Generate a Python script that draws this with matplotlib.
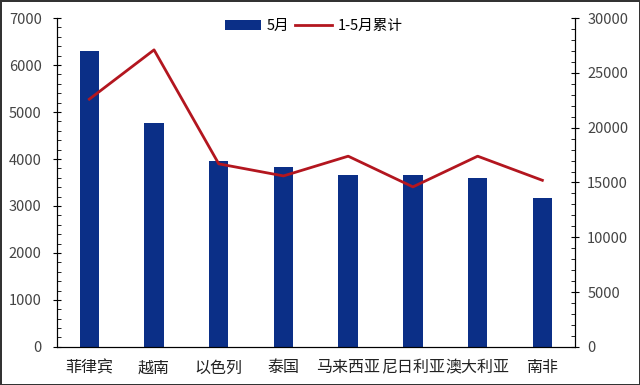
import matplotlib.pyplot as plt
from matplotlib.ticker import MultipleLocator
import numpy as np

plt.rcParams['font.family'] = ['Noto Sans CJK SC', 'DejaVu Sans']

countries = ['菲律宾', '越南', '以色列', '泰国', '马来西亚', '尼日利亚', '澳大利亚', '南非']
may = [6290, 4760, 3960, 3820, 3650, 3650, 3600, 3160]
ytd = [22600, 27100, 16700, 15600, 17400, 14600, 17400, 15200]

bar_color = '#0b2f87'
line_color = '#b3161f'

fig = plt.figure(figsize=(6.4, 3.85), dpi=100)
fig.patch.set_edgecolor('#333333')
fig.patch.set_linewidth(2)
ax = fig.add_axes([0.089, 0.099, 0.809, 0.854])
x = np.arange(len(countries))

bars = ax.bar(x, may, width=0.3, color=bar_color, label='5月', zorder=2)
ax.set_xlim(-0.5, len(countries) - 0.5)
ax.set_ylim(0, 7000)
ax.yaxis.set_major_locator(MultipleLocator(1000))
ax.yaxis.set_minor_locator(MultipleLocator(200))
ax.set_xticks(x)
ax.set_xticklabels(countries, fontsize=11.5, color='#222222')
ax.tick_params(axis='x', length=0, pad=9)
ax.tick_params(axis='y', which='major', direction='inout', length=6, pad=8,
               labelsize=10.5, labelcolor='#444444')
ax.tick_params(axis='y', which='minor', direction='in', length=3)
ax.spines['top'].set_visible(False)

ax2 = ax.twinx()
line, = ax2.plot(x, ytd, color=line_color, lw=2, label='1-5月累计', zorder=3)
ax2.set_ylim(0, 30000)
ax2.yaxis.set_major_locator(MultipleLocator(5000))
ax2.yaxis.set_minor_locator(MultipleLocator(1000))
ax2.tick_params(axis='y', which='major', direction='inout', length=6, pad=6,
                labelsize=10.5, labelcolor='#444444')
ax2.tick_params(axis='y', which='minor', direction='in', length=3)
ax2.spines['top'].set_visible(False)

fig.legend([bars, line], ['5月', '1-5月累计'], loc='upper center',
           bbox_to_anchor=(0.49, 0.985), ncol=2, frameon=False, fontsize=10.5,
           handlelength=2.5, columnspacing=0.4, handletextpad=0.4)

fig.savefig('out.png', dpi=100)
